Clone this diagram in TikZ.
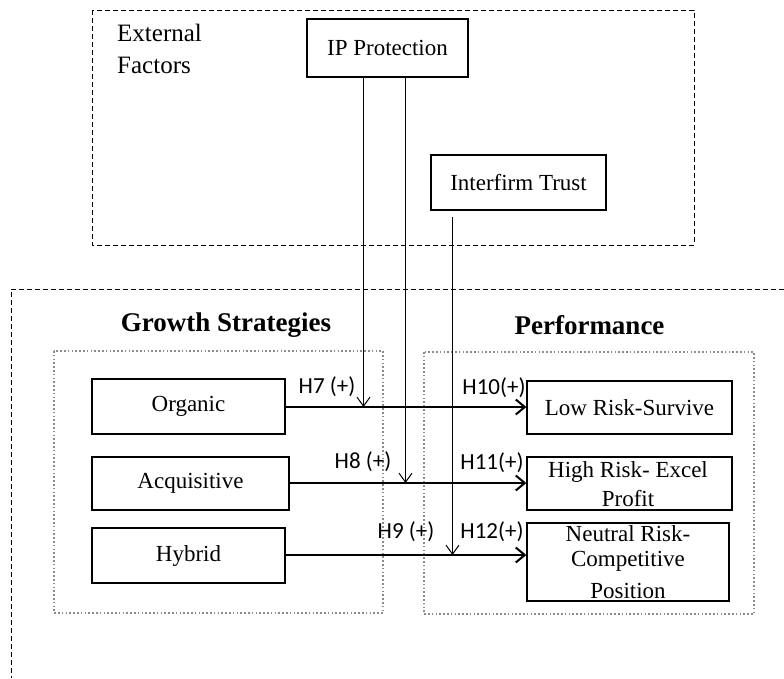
\documentclass[tikz,border=0pt]{standalone}
\usepackage{fontspec}
\setmainfont{Liberation Serif}
\newfontfamily\hypfont{Carlito}
\usetikzlibrary{arrows.meta,calc}

\begin{document}
\begin{tikzpicture}[x=1pt,y=-1pt,
  box/.style={draw, line width=1.3pt, inner sep=0pt, align=center,
    font=\fontsize{23}{27}\selectfont},
  boxtext/.style={font=\fontsize{23}{27}\selectfont, inner sep=0pt},
  heading/.style={font=\fontsize{27}{30}\selectfont\bfseries},
  hyp/.style={font=\hypfont\fontsize{23}{26}\selectfont, inner sep=0pt},
  outer/.style={draw, line width=1pt, dash pattern=on 5pt off 3pt},
  group/.style={draw=black!45, line width=1.6pt, dash pattern=on 1.6pt off 2.2pt},
  mainarrow/.style={line width=2pt, -{Straight Barb[length=9pt,width=15pt,line width=2pt]}},
  modarrow/.style={line width=1pt, -{Straight Barb[length=9pt,width=13pt,line width=1pt]}}]

\useasboundingbox (0,0) rectangle (784,678);

% frames
\draw[outer] (92,10) rectangle (694,245);
\draw[outer] (784,289) -- (11,289) -- (11,678);
\draw[group] (54,351) rectangle (383,613);
\draw[group] (424,352) rectangle (754,614);

% external factors
\node[anchor=west, align=left, inner sep=0pt, font=\fontsize{25}{32}\selectfont]
  (ext) at (117,49) {External\\Factors};
\node[box, minimum width=161pt, minimum height=58pt] (ip) at (387.5,48) {IP Protection};
\node[box, minimum width=175pt, minimum height=55pt] (it) at (518.5,182.5) {Interfirm Trust};

% headings
\node[heading] (gs) at (226,325) {Growth Strategies};
\node[heading] (pf) at (589.5,325) {Performance};

% growth strategies
\node[box, minimum width=193pt, minimum height=55pt] (org) at (188.5,406.5) {Organic};
\node[box, minimum width=197pt, minimum height=53pt] (acq) at (190.5,483.5) {Acquisitive};
\node[box, minimum width=193pt, minimum height=55pt] (hyb) at (188.5,555.5) {Hybrid};

% performance
\node[box, minimum width=205pt, minimum height=53pt] (low) at (629.5,407.5) {Low Risk-Survive};
\node[box, minimum width=205pt, minimum height=53pt] (high) at (629.5,483.5) {};
\node[box, minimum width=202pt, minimum height=78pt] (neu) at (628,562) {};
\node[boxtext] (highA) at (628,472) {High Risk- Excel};
\node[boxtext] (highB) at (628,499) {Profit};
\node[boxtext] (neuA) at (628,534) {Neutral Risk-};
\node[boxtext] (neuB) at (628,561) {Competitive};
\node[boxtext] (neuC) at (628,591) {Position};

% points where the moderators meet the paths
\coordinate (m7) at (363.5,407);
\coordinate (m8) at (405.5,483);
\coordinate (m9) at (452.5,555);

% main paths
\draw[mainarrow] (org.east |- m7) -- (m7 -| low.west);
\draw[mainarrow] (acq.east |- m8) -- (m8 -| high.west);
\draw[mainarrow] (hyb.east |- m9) -- (m9 -| neu.west);

% moderating paths
\draw[modarrow] (ip.south -| m7) -- (m7);
\draw[modarrow] (ip.south -| m8) -- (m8);
\draw[modarrow] ([yshift=-6pt]it.south -| m9) -- (m9);

% hypothesis labels
\node[hyp] (h7) at (327,387) {H7 (+)};
\node[hyp] (h8) at (363,462) {H8 (+)};
\node[hyp] (h9) at (406,532) {H9 (+)};
\node[hyp] (h10) at (494,388) {H10(+)};
\node[hyp] (h11) at (492,463) {H11(+)};
\node[hyp] (h12) at (492,532) {H12(+)};
\end{tikzpicture}
\end{document}
